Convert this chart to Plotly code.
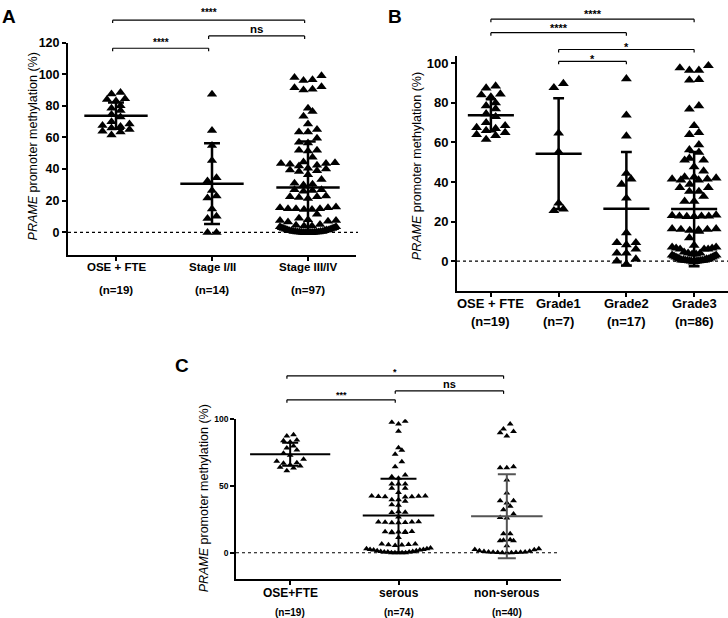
import plotly.graph_objects as go

W, H = 728, 618
FONT = "Arial, 'Liberation Sans', Helvetica, sans-serif"

# ---------------- data ----------------
ose = [88.5, 87.5, 84.5, 84, 83, 80, 78.5, 77, 74.5, 73, 70, 68.5, 67.5, 67, 66, 65, 64, 63.5, 61.5]

stage12 = [87.3, 64.4, 55, 45.5, 34.6, 32.5, 26.5, 23, 21.7, 14.8, 10.2, 8.7, 0, 0]
stage34 = [99, 98, 96.5, 96, 92, 91.5, 90.5, 90,
           78.5, 76.5, 73.5, 68.5, 65, 63.5, 63.5, 59.5, 57, 56.5,
           52, 52, 51.5, 47.5,
           44.5, 44, 43.5, 43.5, 43, 42.5, 42,
           40.5, 40, 39.5, 39, 38.5, 36.5, 33.5,
           31, 30.5, 30, 27, 27, 26.5, 26,
           23, 22.5, 22.5, 22, 21.5,
           16, 15.5, 15.5, 15, 15, 15, 14.5, 14.5, 11.5,
           9, 8, 7.5, 7.5, 7, 6.5,
           5, 4.5, 4, 4, 3.5, 3.5, 3, 3, 2.5, 2.5, 2, 2, 1.5, 1.5, 1.5,
           1, 1, 1, 0.5, 0.5, 0.5, 0.5, 0.3, 0.3, 0.2, 0.2, 0.1, 0.1, 0, 0, 0, 0, 0, 0]

grade1 = [89.8, 87.7, 64.7, 55.2, 29.3, 25.5, 26.3]
grade2 = [92.2, 73.8, 63.2, 44.3, 41.5, 38.8, 31.8, 14.3, 9.3, 9.3, 8.2, 6, 4, 4, 1, 0, -1.5]
grade3 = [98.8, 97.7, 96.5, 96.5, 91.5, 91.8,
          78.5, 76.8, 68.5, 65, 64, 58.8, 56.3, 55,
          52, 51, 51, 47.7, 45.5,
          42.5, 42, 41.5, 41, 41, 42.5, 41.5,
          38.8, 37.2, 37.2, 35.2, 35.2, 32.7, 30.2, 30.2,
          23, 22.5, 22.7, 23.3, 22.5, 22.7, 22.7,
          16, 15.5, 16.3, 15, 16.3, 15.7, 16, 11.8,
          7, 6.5, 6, 6, 6.5, 6, 7, 8,
          4.5, 4, 4, 3.5, 3.5, 3, 3, 2.5, 2.5, 2, 2, 1.5, 1.5, 1, 1, 1,
          0.5, 0.5, 0.5, 0.3, 0.3, 0.2, 0.2, 0.1, 0.1, 0, 0, -0.3, -0.5]

serous = [98.5, 97.8, 96.5, 91.1, 78.7, 76.8, 73.8, 68.1, 64.4,
          58.3, 57, 55.8, 51.6, 51.6, 51.6, 48.4, 48.4, 45.2,
          42.5, 42, 42.3, 41.8, 42, 42.5, 42.2,
          39.7, 39.7, 38.5, 35.5, 36, 30.4, 30.8, 30.2, 26.7,
          23, 22.5, 22.8, 23.2, 22.5, 22.7, 23,
          15.8, 15.2, 15.5, 15, 15.5, 15.8, 16, 11.4,
          6.5, 5.5, 5.8, 6, 6.5, 6.2,
          3.5, 3, 3, 2.5, 2.5, 2, 2, 1.5, 1.5, 1, 1, 0.5, 0.5, 0.5, 0, 0, 0, 0, 0]
nonserous = [96.5, 92.8, 90.9, 89.9, 87.4, 64.4, 63.6, 63.6,
             54.6, 44.7, 39, 39, 37.3, 34.8, 32.3, 29.1, 26.1, 26.5,
             14.3, 14.3, 9.4, 9, 9, 9.8, 5.2,
             3, 2.5, 1.5, 1, 0.5, 0.5, 0.3, 0.3, 0.2, 0.2, 0, 0, 0, 1.2, 2.2]

# mean and SD bars as drawn
A_cats = ["OSE + FTE", "Stage I/II", "Stage III/IV"]
A_n = ["(n=19)", "(n=14)", "(n=97)"]
A_mean = [73.8, 30.8, 28.3]
A_sd = [8.3, 25.5, 29.2]

B_cats = ["OSE + FTE", "Grade1", "Grade2", "Grade3"]
B_n = ["(n=19)", "(n=7)", "(n=17)", "(n=86)"]
B_mean = [73.8, 54.3, 26.5, 26.3]
B_sd = [8.1, 28.0, 28.7, 28.9]

C_cats = ["OSE+FTE", "serous", "non-serous"]
C_n = ["(n=19)", "(n=74)", "(n=40)"]
C_mean = [73.8, 27.9, 27.4]
C_sd = [8.6, 27.5, 31.5]

A_ticks = [0, 20, 40, 60, 80, 100, 120]
B_ticks = [0, 20, 40, 60, 80, 100]
C_ticks = [0, 50, 100]

A_comp = [(0, 2, "****"), (1, 2, "ns"), (0, 1, "****")]
B_comp = [(0, 3, "****"), (0, 2, "****"), (1, 3, "*"), (1, 2, "*")]
C_comp = [(0, 2, "*"), (1, 2, "ns"), (0, 1, "***")]

# ---------------- layout helpers ----------------
def px(x):
    return x / W

def py(y):
    return 1 - y / H


panels = [
    dict(key="", groups=[ose, stage12, stage34], cats=A_cats, ns=A_n, mean=A_mean, sd=A_sd,
         ticks=A_ticks, comp=A_comp,
         xd=(68, 356), yd=(36, 251), xr=(-0.5, 2.5), yr=(-14.4, 120),
         axw=2, msize=9, binh=3.5, spacing=9, maxw=56,
         mhw=[0.33, 0.33, 0.33], chw=[0.083, 0.083, 0.08], lw=2.5,
         lcol=["black", "black", "black"],
         tickfs=12.5, catfs=11.5, catY=263, nfs=11.5, nY=286,
         title=(33, 141), letter=("A", 9, 10),
         brY=[13.3, 29.3, 41.7], txtY=[6, 22, 36], txtfs=[10, 11.5, 10], brdx=-0.035,
         zero_to=358),
    dict(key="2", groups=[ose, grade1, grade2, grade3], cats=B_cats, ns=B_n, mean=B_mean, sd=B_sd,
         ticks=B_ticks, comp=B_comp,
         xd=(457, 728), yd=(50, 287), xr=(-0.5, 3.5), yr=(-15, 103.5),
         axw=2, msize=9.5, binh=3.5, spacing=9.5, maxw=44,
         mhw=[0.34, 0.34, 0.34, 0.34], chw=[0.075, 0.08, 0.08, 0.08], lw=2.5,
         lcol=["black"] * 4,
         tickfs=13, catfs=13, catY=300, nfs=13, nY=318,
         title=(417, 161), letter=("B", 395, 10),
         brY=[12.3, 26, 43, 55], txtY=[7, 21, 40.5, 53], txtfs=[11, 11, 11, 11], brdx=0.0,
         zero_to=728),
    dict(key="3", groups=[ose, serous, nonserous], cats=C_cats, ns=C_n, mean=C_mean, sd=C_sd,
         ticks=C_ticks, comp=C_comp,
         xd=(236, 561), yd=(417, 579), xr=(-0.5, 2.5), yr=(-20, 100),
         axw=1.5, msize=6, binh=4, spacing=6.7, maxw=64,
         mhw=[0.37, 0.33, 0.33], chw=[0.074, 0.166, 0.083], lw=2,
         lcol=["black", "black", "#555555"],
         tickfs=8.5, catfs=12, catY=593, nfs=10, nY=612,
         title=(204, 497), letter=("C", 182, 363),
         brY=[373, 388.3, 397.3], txtY=[369, 381, 392], txtfs=[9, 11, 9], brdx=-0.03,
         zero_to=560),
]


def swarm(vals, center, ppx, binh, spacing, maxw):
    """GraphPad-like row layout: group close values into rows, spread each row sideways."""
    order = sorted(range(len(vals)), key=lambda i: vals[i])
    rows, cur, start = [], [], None
    for i in order:
        if start is None or vals[i] > start + binh:
            if cur:
                rows.append(cur)
            cur, start = [i], vals[i]
        else:
            cur.append(i)
    if cur:
        rows.append(cur)
    xs = [center] * len(vals)
    for row in rows:
        n = len(row)
        s = spacing if n == 1 else min(spacing, maxw / (n - 1))
        slots = sorted([k - (n - 1) / 2 for k in range(n)], key=lambda p: (abs(p), p))
        for idx, slot in zip(row, slots):
            xs[idx] = center + slot * s / ppx
    return xs


fig = go.Figure()
shapes = []
annotations = []
layout_axes = {}

for P in panels:
    k = P["key"]
    xa, ya = "x" + k, "y" + k
    ppx = (P["xd"][1] - P["xd"][0]) / (P["xr"][1] - P["xr"][0])

    # points
    for gi, vals in enumerate(P["groups"]):
        xs = swarm(vals, gi, ppx, P["binh"], P["spacing"], P["maxw"])
        fig.add_trace(go.Scatter(x=xs, y=vals, mode="markers", xaxis=xa, yaxis=ya,
                                 marker=dict(symbol="triangle-up", size=P["msize"], color="black",
                                             line=dict(width=0)),
                                 showlegend=False, hoverinfo="skip"))

    # mean +/- SD bars
    for gi, (m, s) in enumerate(zip(P["mean"], P["sd"])):
        hw, cw = P["mhw"][gi], P["chw"][gi]
        lx = [gi - hw, gi + hw, None, gi, gi, None, gi - cw, gi + cw, None, gi - cw, gi + cw]
        ly = [m, m, None, m - s, m + s, None, m + s, m + s, None, m - s, m - s]
        fig.add_trace(go.Scatter(x=lx, y=ly, mode="lines", xaxis=xa, yaxis=ya,
                                 line=dict(color=P["lcol"][gi], width=P["lw"]),
                                 showlegend=False, hoverinfo="skip"))

    # axes
    xname = "xaxis" + k
    yname = "yaxis" + k
    layout_axes[xname] = dict(domain=[px(P["xd"][0]), px(P["xd"][1])], range=list(P["xr"]),
                              anchor=ya, showline=True, linecolor="black", linewidth=P["axw"],
                              showgrid=False, zeroline=False, ticks="outside", ticklen=4,
                              tickwidth=1.5, tickcolor="black",
                              tickvals=list(range(len(P["cats"]))), showticklabels=False,
                              fixedrange=True)
    layout_axes[yname] = dict(domain=[py(P["yd"][1]), py(P["yd"][0])], range=list(P["yr"]),
                              anchor=xa, showline=True, linecolor="black", linewidth=P["axw"],
                              showgrid=False, zeroline=False, ticks="outside", ticklen=4,
                              tickwidth=P["axw"], tickcolor="black", tickvals=P["ticks"],
                              tickfont=dict(family=FONT, size=P["tickfs"], color="black",
                                            weight="bold"),
                              fixedrange=True)

    # dotted zero line
    shapes.append(dict(type="line", xref="paper", yref=ya, x0=px(P["xd"][0]), x1=px(P["zero_to"]),
                       y0=0, y1=0, line=dict(color="black", width=1.2, dash="dot")))

    # category and n labels
    for gi, (c, n) in enumerate(zip(P["cats"], P["ns"])):
        annotations.append(dict(x=gi, xref=xa, y=py(P["catY"]), yref="paper", text=c,
                                showarrow=False, xanchor="center", yanchor="middle",
                                font=dict(family=FONT, size=P["catfs"], color="black",
                                          weight="bold")))
        annotations.append(dict(x=gi, xref=xa, y=py(P["nY"]), yref="paper", text=n,
                                showarrow=False, xanchor="center", yanchor="middle",
                                font=dict(family=FONT, size=P["nfs"], color="black",
                                          weight="bold")))

    # y-axis title
    tx, ty = P["title"]
    annotations.append(dict(x=px(tx), y=py(ty), xref="paper", yref="paper",
                            text="<i>PRAME</i> promoter methylation (%)", textangle=-90,
                            showarrow=False, xanchor="center", yanchor="middle",
                            font=dict(family=FONT, size=12.5, color="black")))

    # panel letter
    L, lx_, ly_ = P["letter"]
    annotations.append(dict(x=px(lx_), y=py(ly_), xref="paper", yref="paper", text=L,
                            showarrow=False, xanchor="center", yanchor="middle",
                            font=dict(family=FONT, size=19, color="black", weight="bold")))

    # significance brackets
    tick = 3
    for (i, j, lab), by, ty_, fs in zip(P["comp"], P["brY"], P["txtY"], P["txtfs"]):
        x0, x1 = i + P["brdx"], j + P["brdx"]
        for xx in (x0, x1):
            shapes.append(dict(type="line", xref=xa, yref="paper", x0=xx, x1=xx,
                               y0=py(by), y1=py(by + tick), line=dict(color="black", width=1.2)))
        shapes.append(dict(type="line", xref=xa, yref="paper", x0=x0, x1=x1,
                           y0=py(by), y1=py(by), line=dict(color="black", width=1.2)))
        annotations.append(dict(x=(x0 + x1) / 2, xref=xa, y=py(ty_), yref="paper", text=lab,
                                showarrow=False, xanchor="center", yanchor="middle",
                                font=dict(family=FONT, size=fs, color="black", weight="bold")))

fig.update_layout(width=W, height=H, margin=dict(l=0, r=0, t=0, b=0),
                  paper_bgcolor="white", plot_bgcolor="white", showlegend=False,
                  shapes=shapes, annotations=annotations, **layout_axes)

fig.write_html("out.html", config={"displayModeBar": False},
               post_script="document.body.style.margin='0px';document.body.style.overflow='hidden';")
